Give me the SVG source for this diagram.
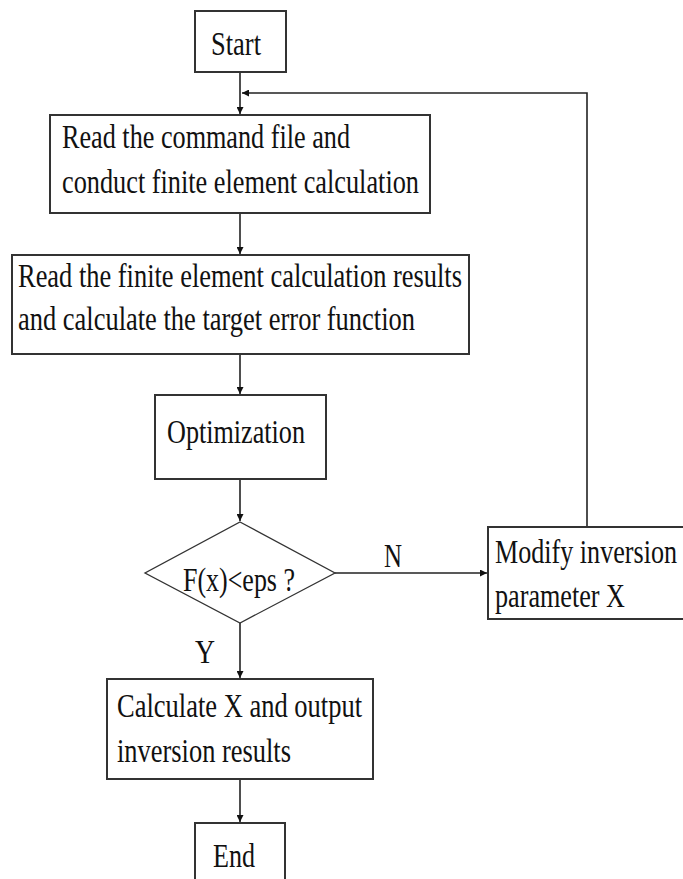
<svg xmlns="http://www.w3.org/2000/svg" width="683" height="879" viewBox="0 0 683 879">
<style>
.box{fill:#fff;stroke:#333;stroke-width:2}
.dia{fill:#fff;stroke:#333;stroke-width:1.3}
.t{font-family:"Liberation Serif","Times New Roman",serif;font-size:34px;fill:#111}
.c{stroke:#222;stroke-width:1.6;fill:none}
</style>
<defs>
<marker id="ah" viewBox="0 0 10 10" refX="10" refY="5" markerWidth="7" markerHeight="7" markerUnits="userSpaceOnUse" orient="auto">
<path d="M0,0 L10,5 L0,10 z" fill="#111"/>
</marker>
</defs>
<rect width="683" height="879" fill="#fff"/>
<g id="connectors">
<line class="c" x1="240" y1="72" x2="240" y2="114" marker-end="url(#ah)"/>
<polyline class="c" points="587,527 587,93 242,93" marker-end="url(#ah)"/>
<line class="c" x1="240" y1="213" x2="240" y2="254" marker-end="url(#ah)"/>
<line class="c" x1="240" y1="354" x2="240" y2="394" marker-end="url(#ah)"/>
<line class="c" x1="240" y1="479" x2="240" y2="521" marker-end="url(#ah)"/>
<line class="c" x1="335" y1="573" x2="487" y2="573" marker-end="url(#ah)"/>
<line class="c" x1="240" y1="623" x2="240" y2="678" marker-end="url(#ah)"/>
<line class="c" x1="240" y1="779" x2="240" y2="822" marker-end="url(#ah)"/>
<text class="t" x="384" y="567" textLength="18" lengthAdjust="spacingAndGlyphs">N</text>
<text class="t" x="195" y="663" textLength="20" lengthAdjust="spacingAndGlyphs">Y</text>
</g>
<g id="start">
<rect class="box" x="195" y="11" width="91" height="61"/>
<text class="t" x="211" y="55" textLength="50" lengthAdjust="spacingAndGlyphs">Start</text>
</g>
<g id="read-command">
<rect class="box" x="50" y="115" width="380" height="98"/>
<text class="t" x="62" y="148" textLength="288" lengthAdjust="spacingAndGlyphs">Read the command file and</text>
<text class="t" x="62" y="193" textLength="357" lengthAdjust="spacingAndGlyphs">conduct finite element calculation</text>
</g>
<g id="read-results">
<rect class="box" x="12" y="255" width="457" height="99"/>
<text class="t" x="18" y="287" textLength="444" lengthAdjust="spacingAndGlyphs">Read the finite element calculation results</text>
<text class="t" x="18" y="330" textLength="397" lengthAdjust="spacingAndGlyphs">and calculate the target error function</text>
</g>
<g id="optimization">
<rect class="box" x="155" y="395" width="171" height="84"/>
<text class="t" x="167" y="443" textLength="138" lengthAdjust="spacingAndGlyphs">Optimization</text>
</g>
<g id="decision">
<polygon class="dia" points="240,522 335,573 240,623 145,573"/>
<text class="t" x="183" y="591" textLength="112" lengthAdjust="spacingAndGlyphs">F(x)&lt;eps ?</text>
</g>
<g id="modify">
<rect class="box" x="488" y="527" width="200" height="92"/>
<text class="t" x="495" y="563" textLength="182" lengthAdjust="spacingAndGlyphs">Modify inversion</text>
<text class="t" x="495" y="607" textLength="130" lengthAdjust="spacingAndGlyphs">parameter X</text>
</g>
<g id="calculate">
<rect class="box" x="107" y="679" width="266" height="100"/>
<text class="t" x="117" y="717" textLength="245" lengthAdjust="spacingAndGlyphs">Calculate X and output</text>
<text class="t" x="117" y="762" textLength="174" lengthAdjust="spacingAndGlyphs">inversion results</text>
</g>
<g id="end">
<rect class="box" x="195" y="823" width="90" height="62"/>
<text class="t" x="213" y="867" textLength="42" lengthAdjust="spacingAndGlyphs">End</text>
</g>
</svg>
